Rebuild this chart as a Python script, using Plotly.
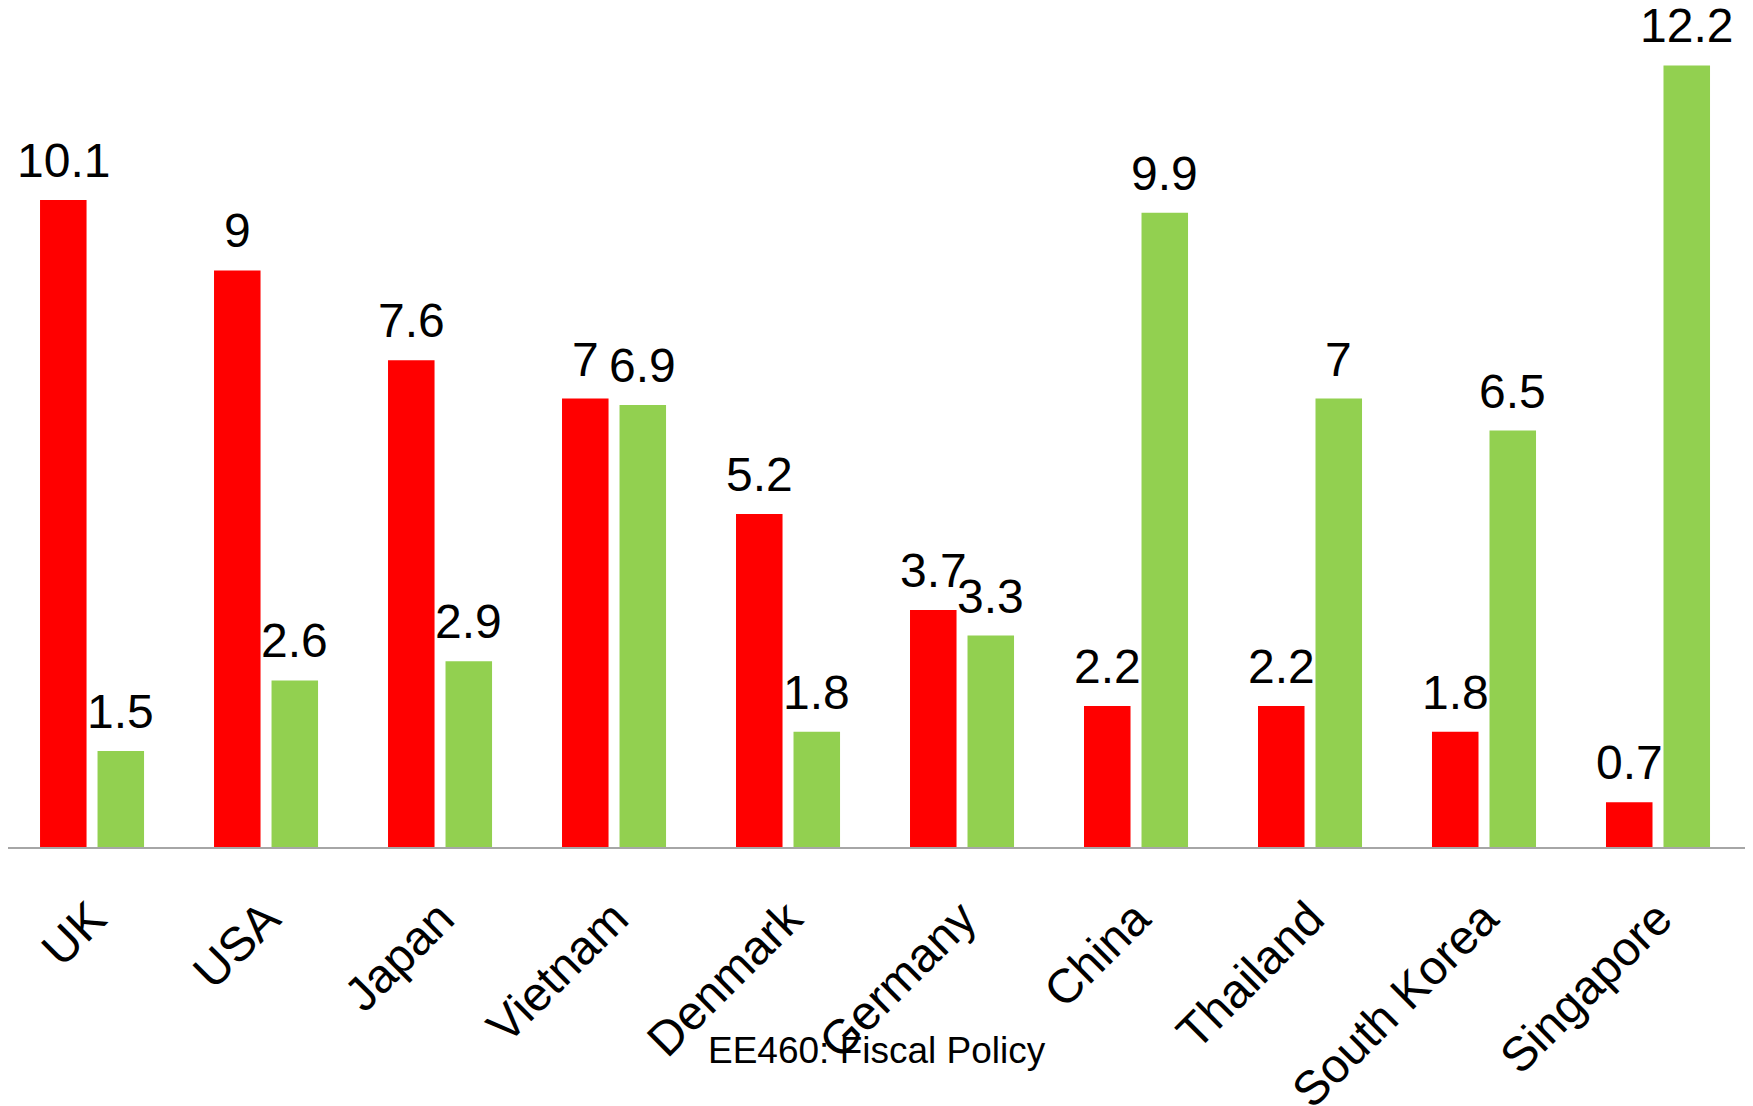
import plotly.graph_objects as go

# values
countries = ['UK', 'USA', 'Japan', 'Vietnam', 'Denmark', 'Germany',
             'China', 'Thailand', 'South Korea', 'Singapore']
red_vals = [10.1, 9, 7.6, 7, 5.2, 3.7, 2.2, 2.2, 1.8, 0.7]
green_vals = [1.5, 2.6, 2.9, 6.9, 1.8, 3.3, 9.9, 7, 6.5, 12.2]
footer = 'EE460: Fiscal Policy'

FONT = 'Liberation Sans, Arial, sans-serif'
# page body has an 8px margin, so the figure is a bit smaller than the window
W, H = 1745, 1098
M = dict(l=0, r=8, t=12, b=259)
BARGAP = 0.339
X_RANGE = [-0.483, 9.5]

fig = go.Figure()
fig.add_trace(go.Bar(x=countries, y=red_vals, name='Series 1',
                     marker_color='#FF0000', marker_line_width=0))
fig.add_trace(go.Bar(x=countries, y=green_vals, name='Series 2',
                     marker_color='#92D050', marker_line_width=0))

# value labels above each bar (offset to the center of each bar in the group)
cat_px = (W - M['l'] - M['r']) / (X_RANGE[1] - X_RANGE[0])
slot = cat_px * (1 - BARGAP) / 2
for vals, dx in ((red_vals, -slot / 2), (green_vals, slot / 2)):
    for c, v in zip(countries, vals):
        fig.add_annotation(
            x=c, y=v, xref='x', yref='y', text=str(v), showarrow=False,
            xanchor='center', yanchor='bottom', xshift=dx, yshift=11,
            font=dict(size=48, color='#000000', family=FONT)
        )

fig.add_annotation(
    text=footer, xref='paper', yref='paper', x=0.5, y=-0.2455,
    xanchor='center', yanchor='middle', showarrow=False,
    font=dict(size=37, color='#000000', family=FONT)
)

fig.update_layout(
    width=W, height=H,
    barmode='group', bargap=BARGAP, bargroupgap=0.191,
    margin=M,
    showlegend=False,
    paper_bgcolor='white', plot_bgcolor='white',
    font=dict(family=FONT, color='#000000'),
    xaxis=dict(
        showline=True, linecolor='#A6A6A6', linewidth=2,
        showgrid=False, tickangle=-45, automargin=False, range=X_RANGE,
        tickfont=dict(size=48, family=FONT, color='#000000'),
        ticks='', ticklabelstandoff=22
    ),
    yaxis=dict(visible=False, range=[0, 12.91], showgrid=False,
               zeroline=False, automargin=False)
)

fig.write_html('out.html')
